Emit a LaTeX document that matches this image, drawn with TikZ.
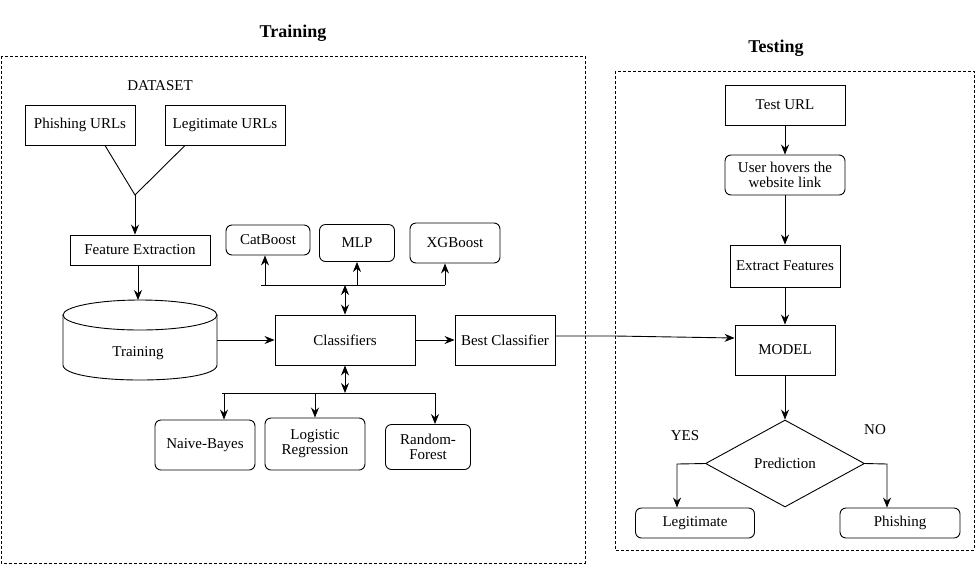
\documentclass[tikz,border=0pt]{standalone}
\usepackage{fontspec}
\setmainfont{Liberation Serif}
\usetikzlibrary{arrows.meta,shapes.geometric,calc}
\begin{document}
\begin{tikzpicture}[x=1pt,y=-1pt,
  line width=0.9pt,
  txt/.style={font=\rmfamily\fontsize{15}{17}\selectfont, align=center},
  box/.style={draw, txt, inner sep=1pt},
  rbox/.style={box, rounded corners=6pt},
  arr/.style={-{Stealth[length=10pt,width=8pt]}},
  arrtwo/.style={{Stealth[length=10pt,width=8pt]}-{Stealth[length=10pt,width=8pt]}},
  dashbox/.style={draw, line width=0.8pt, dash pattern=on 3pt off 2pt},
  title/.style={font=\rmfamily\fontsize{18}{20}\selectfont\bfseries}]
\useasboundingbox (0,0) rectangle (976,566);

% frames and titles
\draw[dashbox] (1,56) rectangle (585,563);
\draw[dashbox] (615,71) rectangle (974,550);
\node[title] (ttrain) at (293,33) {Training};
\node[title] (ttest) at (776,48) {Testing};

% training side
\node[txt] (dataset) at (160,86) {DATASET};
\node[box, minimum width=110pt, minimum height=40pt] (phish) at (80,125) {Phishing URLs};
\node[box, minimum width=120pt, minimum height=40pt] (legit) at (225,125) {Legitimate URLs};
\coordinate (j) at (135,195);
\node[box, minimum width=140pt, minimum height=30pt] (fe) at (140,250) {Feature Extraction};

% cylinder
\draw (63,315) -- (63,365) .. controls (63,385) and (217,385) .. (217,365) -- (217,315);
\draw (140,315) ellipse [x radius=77, y radius=15];
\node[minimum width=154pt, minimum height=80pt, inner sep=0pt] (cyl) at (140,340) {};
\node[txt] (cyltxt) at (138,353) {Training};

\node[box, minimum width=140pt, minimum height=50pt] (classif) at (345,340) {Classifiers};
\node[box, minimum width=100pt, minimum height=50pt] (best) at (505,340) {Best Classifier};

\node[rbox, minimum width=84pt, minimum height=30pt] (cat) at (268,240) {CatBoost};
\node[rbox, minimum width=75pt, minimum height=37pt] (mlp) at (357,243) {MLP};
\node[rbox, minimum width=90pt, minimum height=40pt] (xgb) at (455,243) {XGBoost};

\node[rbox, minimum width=100pt, minimum height=50pt] (nb) at (205,445) {Naive-Bayes};
\node[rbox, minimum width=100pt, minimum height=52pt] (lr) at (315,444) {Logistic\\[-2pt]Regression};
\node[rbox, minimum width=85pt, minimum height=45pt] (rf) at (428,447) {Random-\\[-2pt]Forest};

\coordinate (ta) at (261,285);
\coordinate (tb) at (445,285);
\coordinate (tm) at (345,285);
\coordinate (tc) at (265,285);
\coordinate (ba) at (222,393);
\coordinate (bb) at (435,393);
\coordinate (bm) at (345,393);
\coordinate (bn) at (224,393);
\coordinate (fs) at (138,265);
\coordinate (ct) at (138,300);

% training connectors
\draw ([xshift=25pt]phish.south) -- (j) -- ([xshift=-40pt]legit.south);
\draw[arr] (j) -- (j |- fe.north);
\draw[arr] (fs) -- (ct);
\draw[arr] (cyl.east) -- (classif.west);
\draw[arr] (classif.east) -- (best.west);
\draw (ta) -- (tb);
\draw[arr] (tc) -- (tc |- cat.south);
\draw[arr] (mlp.south |- ta) -- (mlp.south);
\draw[arr] (tb) -- (tb |- xgb.south);
\draw[arrtwo] (tm) -- (classif.north);
\draw[arrtwo] (classif.south) -- (bm);
\draw (ba) -- (bb);
\draw[arr] (bn) -- (bn |- nb.north);
\draw[arr] (lr.north |- ba) -- (lr.north);
\draw[arr] (bb) -- (bb |- rf.north);

% testing side
\node[box, minimum width=120pt, minimum height=40pt] (testurl) at (785,105) {Test URL};
\node[rbox, minimum width=120pt, minimum height=40pt] (hover) at (785,175) {User hovers the\\[-2pt]website link};
\node[box, minimum width=110pt, minimum height=42pt] (extract) at (785,266) {Extract Features};
\node[box, minimum width=100pt, minimum height=50pt] (model) at (785,350) {MODEL};
\node[diamond, draw, txt, inner sep=0pt, minimum width=159pt, minimum height=87pt, aspect=1.83] (pred) at (785,463.5) {Prediction};
\node[rbox, minimum width=119pt, minimum height=30pt] (legout) at (695,523) {Legitimate};
\node[rbox, minimum width=120pt, minimum height=30pt] (phout) at (900,523) {Phishing};
\node[txt] (yes) at (685,436) {YES};
\node[txt] (no) at (875,430) {NO};
\coordinate (mid) at (615,336);
\coordinate (yl) at (677,464);
\coordinate (nr) at (887,464);

\draw[arr] (testurl.south) -- (hover.north);
\draw[arr] (hover.south) -- (extract.north);
\draw[arr] (extract.south) -- (model.north);
\draw[arr] (model.south) -- (pred.north);
\draw[arr] (pred.west) -- (yl) -- (yl |- legout.north);
\draw[arr] (pred.east) -- (nr) -- (nr |- phout.north);
\draw[arr] ([yshift=4pt]best.east) -- (mid) -- ([yshift=12pt]model.west);
\end{tikzpicture}
\end{document}
